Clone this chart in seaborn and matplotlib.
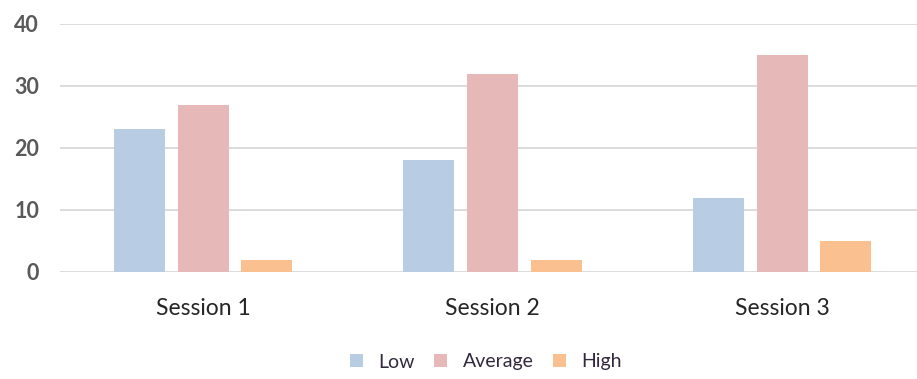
import matplotlib
matplotlib.use("Agg")
import matplotlib.pyplot as plt
import seaborn as sns
import pandas as pd
from matplotlib.patches import Patch

sessions = ["Session 1", "Session 2", "Session 3"]
levels = ["Low", "Average", "High"]
low = [23, 18, 12]
average = [27, 32, 35]
high = [2, 2, 5]
y_ticks = [0, 10, 20, 30, 40]

colors = {"Low": "#B8CCE4", "Average": "#E6B9B8", "High": "#FAC090"}

rows = []
for lvl, vals in zip(levels, [low, average, high]):
    for s, v in zip(sessions, vals):
        rows.append({"Session": s, "Level": lvl, "Value": v})
df = pd.DataFrame(rows)

sns.set_theme(style="white")
plt.rcParams["font.family"] = ["Lato", "DejaVu Sans"]

fig = plt.figure(figsize=(9.17, 3.79), dpi=100)
ax = fig.add_axes([60 / 917, (379 - 272) / 379, (917 - 60) / 917, (272 - 24) / 379])

sns.barplot(data=df, x="Session", y="Value", hue="Level", hue_order=levels,
            palette=colors, width=0.66, gap=0.2, ax=ax, legend=False,
            saturation=1, linewidth=0)

ax.set_ylim(0, 40)
ax.set_xlim(-0.494, 2.466)
ax.set_yticks(y_ticks)
ax.yaxis.grid(True, color="#D9D9D9", linewidth=1.3)
ax.set_axisbelow(True)
for sp in ax.spines.values():
    sp.set_visible(False)
ax.set_xlabel("")
ax.set_ylabel("")
ax.tick_params(axis="y", length=0, pad=15, labelsize=15.5, labelcolor="#595959")
ax.tick_params(axis="x", length=0, pad=19, labelsize=16.5, labelcolor="#262626")
for t in ax.get_yticklabels():
    t.set_fontweight("bold")

handles = [Patch(facecolor=colors[l], edgecolor="none", label=l) for l in levels]
fig.legend(handles=handles, loc="center", bbox_to_anchor=(486 / 917, 1 - 362 / 379),
           ncol=3, frameon=False, fontsize=14, handlelength=0.65, handleheight=0.65,
           handletextpad=0.8, columnspacing=1.0, labelcolor="#33293f")

fig.savefig("out.png", dpi=100)
